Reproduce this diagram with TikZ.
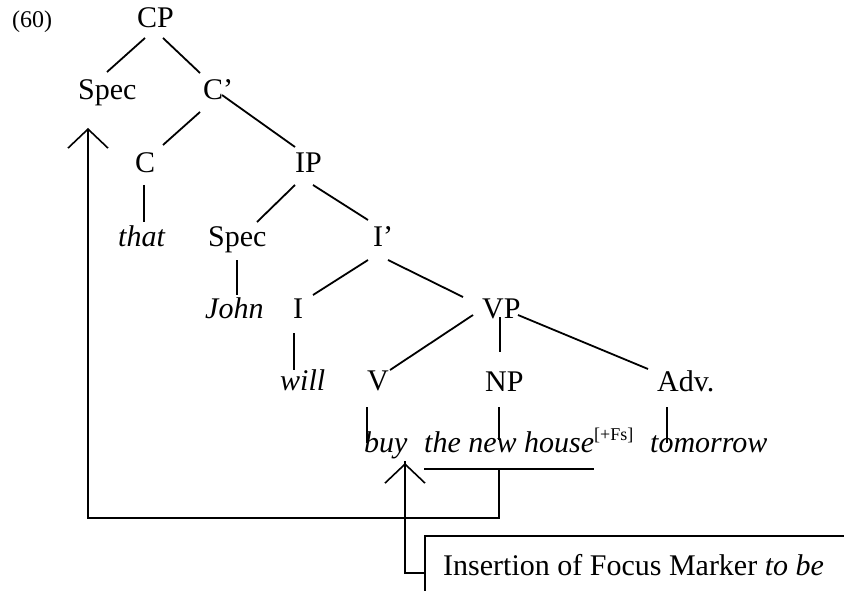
\documentclass[tikz,border=0pt]{standalone}
\usepackage{fontspec}
\setmainfont{Liberation Serif}
\usetikzlibrary{calc,arrows.meta}
\begin{document}
\begin{tikzpicture}[x=1bp,y=-1bp,
  lbl/.style={anchor=base west,inner sep=0pt,font=\fontsize{30bp}{36bp}\selectfont},
  ilbl/.style={lbl,font=\fontsize{30bp}{36bp}\selectfont\itshape},
  edge/.style={line width=1.8bp},
  thin/.style={line width=1.2bp},
  mover/.style={line width=1.5bp,-{Straight Barb[length=19bp,width=40bp,line width=1.6bp]}},
  plain/.style={line width=1.5bp}]
\useasboundingbox (0,0) rectangle (844,591);
% labels
\node[anchor=base west,inner sep=0pt,font=\fontsize{24bp}{28bp}\selectfont] (ex) at (12,28) {(60)};
\node[lbl] (cp) at (137,28) {CP};
\node[lbl] (spec1) at (78,100) {Spec};
\node[lbl] (cbar) at (203,100) {C’};
\node[lbl] (c) at (135,173) {C};
\node[lbl] (ip) at (295,173) {IP};
\node[ilbl] (that) at (118,247) {that};
\node[lbl] (spec2) at (208,247) {Spec};
\node[lbl] (ibar) at (373,247) {I’};
\node[ilbl] (john) at (205,318) {John};
\node[lbl] (i) at (293,318) {I};
\node[lbl] (vp) at (482,318) {VP};
\node[ilbl] (will) at (280,390) {will};
\node[lbl] (v) at (367,390) {V};
\node[lbl] (np) at (485,391) {NP};
\node[lbl] (adv) at (657,391) {Adv.};
\node[ilbl] (buy) at (364,452) {buy};
\node[ilbl] (house) at (424,452) {the new house};
\node[anchor=base west,inner sep=0pt,font=\fontsize{18bp}{20bp}\selectfont] (fs) at (594,440) {[+Fs]};
\node[ilbl] (tom) at (650,452) {tomorrow};
\node[lbl] (boxt) at (443,575) {Insertion of Focus Marker \textit{to be}};
% tree edges
\draw[edge] ($(cp.base west)+(8,10)$) -- ($(spec1.base west)+(29,-28)$);
\draw[edge] ($(cp.base west)+(26,10)$) -- ($(cbar.base west)+(-3,-27)$);
\draw[edge] ($(cbar.base west)+(-3,12)$) -- ($(c.base west)+(28,-28)$);
\draw[edge] ($(cbar.base west)+(19,-5)$) -- ($(ip.base west)+(0,-26)$);
\draw[thin] ($(c.base west)+(9,12)$) -- ($(that.base west)+(26,-25)$);
\draw[edge] ($(ip.base west)+(0,12)$) -- ($(spec2.base west)+(49,-25)$);
\draw[edge] ($(ip.base west)+(18,12)$) -- ($(ibar.base west)+(-5,-27)$);
\draw[thin] ($(spec2.base west)+(29,13)$) -- ($(john.base west)+(32,-23)$);
\draw[edge] ($(ibar.base west)+(-5,13)$) -- ($(i.base west)+(20,-23)$);
\draw[edge] ($(ibar.base west)+(15,13)$) -- ($(vp.base west)+(-19,-21)$);
\draw[thin] ($(i.base west)+(1,15)$) -- ($(will.base west)+(14,-20)$);
\draw[edge] ($(vp.base west)+(-9,-3)$) -- ($(v.base west)+(23,-20)$);
\draw[thin] ($(vp.base west)+(18,-1)$) -- ($(np.base west)+(15,-39)$);
\draw[edge] ($(vp.base west)+(36,-3)$) -- ($(adv.base west)+(-9,-22)$);
\draw[thin] ($(v.base west)+(0,17)$) -- ($(buy.base west)+(3,-9)$);
\draw[thin] ($(np.base west)+(14,16)$) -- ($(house.base west)+(75,-12)$);
\draw[thin] ($(adv.base west)+(10,16)$) -- ($(tom.base west)+(17,-9)$);
% underline
\draw[thin] ($(house.base west)+(0,17)$) -- ($(house.base west)+(170,17)$);
% movement to Spec
\draw[mover] ($(house.base west)+(75,17)$) -- ++(0,49) -| ($(spec1.base west)+(10,28)$);
% insertion arrow
\draw[mover] ($(boxt.base west)+(-18,-2)$) -- ++(-20,0) |- ($(buy.base west)+(41,11)$);
% box (cropped)
\draw[plain] ($(boxt.base west)+(-18,16)$) -- ($(boxt.base west)+(-18,-39)$) -- ($(boxt.base west)+(401,-39)$);
\end{tikzpicture}
\end{document}
